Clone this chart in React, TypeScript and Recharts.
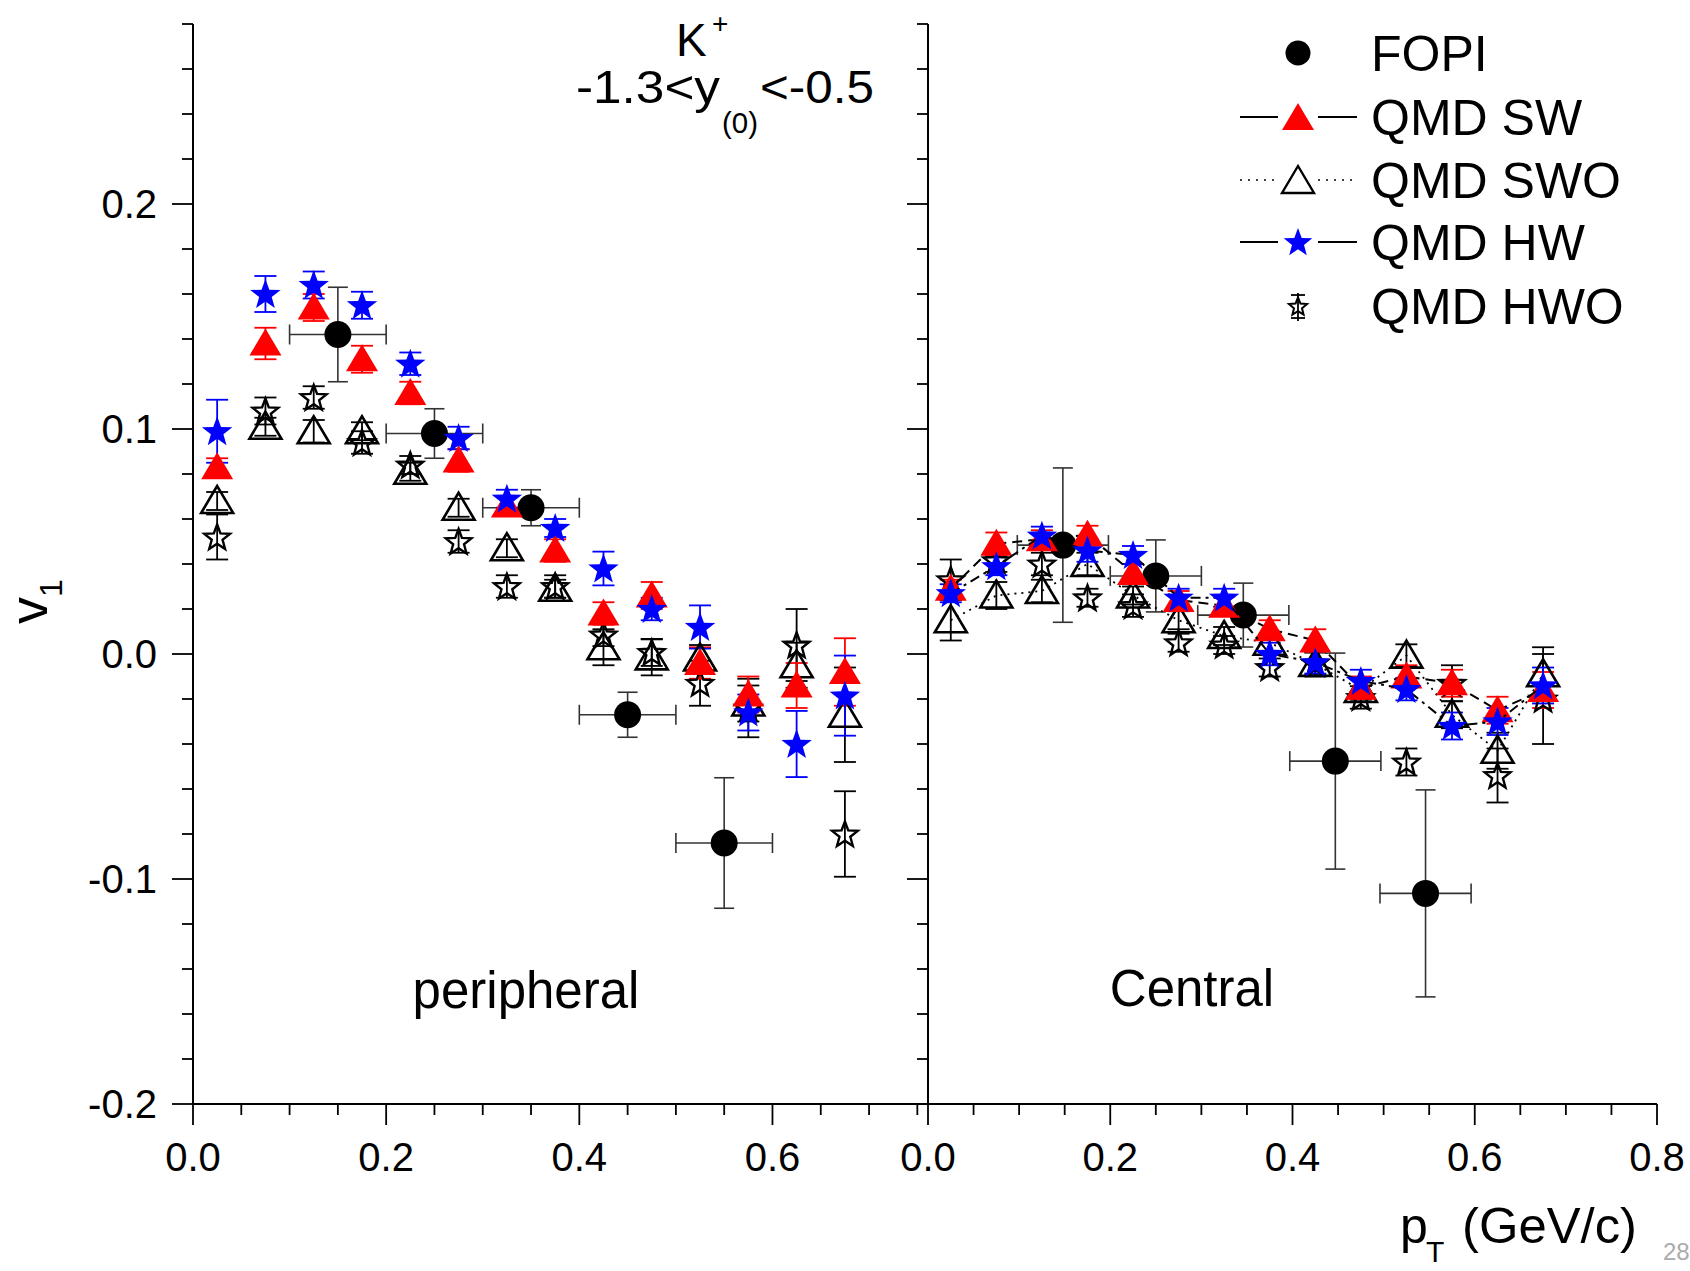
import React from "react";
import { ScatterChart, Scatter, XAxis, YAxis, ErrorBar } from "recharts";

// model pT bins (GeV/c), same in both panels
const ptModel = [0.025, 0.075, 0.125, 0.175, 0.225, 0.275, 0.325, 0.375, 0.425, 0.475, 0.525, 0.575, 0.625, 0.675];

// ---- peripheral ----
const periFopiPt = [0.15, 0.25, 0.35, 0.45, 0.55];
const periFopiV1 = [0.142, 0.098, 0.065, -0.027, -0.084];
const periFopiErr = [0.021, 0.011, 0.008, 0.01, 0.029];
const periFopiPtErr = [0.05, 0.05, 0.05, 0.05, 0.05];

const periSW = [0.083, 0.138, 0.154, 0.131, 0.116, 0.086, 0.066, 0.046, 0.018, 0.026, -0.004, -0.018, -0.014, -0.008];
const periSWErr = [0.004, 0.007, 0.006, 0.006, 0.005, 0.005, 0.004, 0.005, 0.005, 0.006, 0.007, 0.008, 0.01, 0.015];
const periSWO = [0.068, 0.101, 0.099, 0.099, 0.081, 0.065, 0.047, 0.029, 0.003, -0.0015, -0.002, -0.022, -0.005, -0.027];
const periSWOErr = [0.004, 0.004, 0.005, 0.004, 0.004, 0.004, 0.004, 0.004, 0.008, 0.008, 0.006, 0.008, 0.01, 0.021];
const periHW = [0.099, 0.16, 0.164, 0.155, 0.129, 0.096, 0.069, 0.056, 0.038, 0.02, 0.012, -0.026, -0.04, -0.0185];
const periHWErr = [0.014, 0.008, 0.006, 0.006, 0.005, 0.005, 0.004, 0.004, 0.0075, 0.005, 0.0096, 0.008, 0.0147, 0.0178];
const periHWO = [0.052, 0.108, 0.114, 0.094, 0.084, 0.05, 0.03, 0.03, 0.0085, 0.0007, -0.013, -0.024, 0.004, -0.08];
const periHWOErr = [0.01, 0.006, 0.005, 0.005, 0.004, 0.005, 0.005, 0.005, 0.005, 0.006, 0.01, 0.013, 0.016, 0.019];

// ---- central ----
const centFopiPt = [0.148, 0.25, 0.346, 0.447, 0.546];
const centFopiV1 = [0.0484, 0.0347, 0.0173, -0.0476, -0.1064];
const centFopiErr = [0.0343, 0.016, 0.0142, 0.048, 0.046];
const centFopiPtErr = [0.05, 0.05, 0.05, 0.05, 0.05];

const centSW = [0.029, 0.049, 0.051, 0.053, 0.036, 0.024, 0.0215, 0.011, 0.006, -0.015, -0.01, -0.013, -0.025, -0.016];
const centSWErr = [0.004, 0.005, 0.004, 0.004, 0.004, 0.004, 0.004, 0.004, 0.005, 0.005, 0.005, 0.006, 0.006, 0.008];
const centSWO = [0.015, 0.026, 0.028, 0.04, 0.026, 0.015, 0.008, 0.005, -0.0044, -0.016, -0.0007, -0.027, -0.043, -0.009];
const centSWOErr = [0.009, 0.006, 0.005, 0.005, 0.004, 0.004, 0.004, 0.004, 0.005, 0.005, 0.005, 0.006, 0.008, 0.012];
const centHW = [0.027, 0.039, 0.0526, 0.046, 0.044, 0.025, 0.025, 0.0, -0.0037, -0.012, -0.0156, -0.032, -0.03, -0.014];
const centHWErr = [0.004, 0.004, 0.004, 0.005, 0.004, 0.004, 0.004, 0.005, 0.005, 0.005, 0.005, 0.006, 0.006, 0.008];
const centHWO = [0.033, 0.0415, 0.04, 0.025, 0.0215, 0.005, 0.004, -0.006, -0.004, -0.0193, -0.048, -0.013, -0.054, -0.02];
const centHWOErr = [0.009, 0.005, 0.005, 0.004, 0.005, 0.004, 0.004, 0.004, 0.006, 0.005, 0.006, 0.008, 0.012, 0.02];

// axis ticks
const yTicks = [-0.2, -0.18, -0.16, -0.14, -0.12, -0.1, -0.08, -0.06, -0.04, -0.02, 0, 0.02, 0.04, 0.06, 0.08, 0.1, 0.12, 0.14, 0.16, 0.18, 0.2, 0.22, 0.24, 0.26, 0.28];
const xTicksPeri = [0, 0.05, 0.1, 0.15, 0.2, 0.25, 0.3, 0.35, 0.4, 0.45, 0.5, 0.55, 0.6, 0.65, 0.7, 0.75];
const xTicksCent = [0, 0.05, 0.1, 0.15, 0.2, 0.25, 0.3, 0.35, 0.4, 0.45, 0.5, 0.55, 0.6, 0.65, 0.7, 0.75, 0.8];

const FONT = "'Liberation Sans', Arial, Helvetica, sans-serif";
const RED = "#ff0000";
const BLUE = "#0000ff";

const rows = (xs: number[], ys: number[], es: number[], exs?: number[]) =>
  xs.map((x, i) => ({ x, y: ys[i], ey: es[i], ex: exs ? exs[i] : 0 }));

const isMajorY = (v: number) => Math.abs(v * 10 - Math.round(v * 10)) < 1e-6;
const isMajorX = (v: number) => Math.abs(v * 5 - Math.round(v * 5)) < 1e-6;

type Side = "left" | "right" | "top" | "bottom";

function makeTick(side: Side, labels: boolean) {
  return (props: any) => {
    const { x, y, payload } = props;
    const v = payload.value as number;
    const major = side === "left" || side === "right" ? isMajorY(v) : isMajorX(v);
    const len = major ? 21 : 11;
    let line;
    if (side === "bottom" || side === "top") line = <line x1={x} y1={y} x2={x} y2={y + len} />;
    else line = <line x1={x} y1={y} x2={x - len} y2={y} />;
    const txt = Math.abs(v) < 1e-9 ? "0.0" : v.toFixed(1);
    return (
      <g>
        <g stroke="#000" strokeWidth={1.8}>{line}</g>
        {labels && major && side === "left" && (
          <text x={x - 36} y={y + 14} textAnchor="end" fontSize={40} fontFamily={FONT} fill="#000">
            {txt}
          </text>
        )}
        {labels && major && side === "bottom" && (
          <text x={x} y={y + 67} textAnchor="middle" fontSize={40} fontFamily={FONT} fill="#000">
            {txt}
          </text>
        )}
      </g>
    );
  };
}

function starPts(cx: number, cy: number, R: number, r: number) {
  const pts: string[] = [];
  for (let i = 0; i < 10; i++) {
    const a = -Math.PI / 2 + (i * Math.PI) / 5;
    const rad = i % 2 === 0 ? R : r;
    pts.push(`${cx + rad * Math.cos(a)},${cy + rad * Math.sin(a)}`);
  }
  return pts.join(" ");
}

const triPts = (cx: number, cy: number) => `${cx},${cy - 15} ${cx - 16},${cy + 12} ${cx + 16},${cy + 12}`;

const Dot = (p: any) => <circle cx={p.cx} cy={p.cy} r={13.5} fill="#000" />;
const RedTri = (p: any) => <polygon points={triPts(p.cx, p.cy)} fill={RED} />;
const OpenTri = (p: any) => <polygon points={triPts(p.cx, p.cy)} fill="none" stroke="#000" strokeWidth={2.6} />;
const BlueStar = (p: any) => <polygon points={starPts(p.cx, p.cy + 1, 16, 6.6)} fill={BLUE} />;
const OpenStar = (p: any) => <polygon points={starPts(p.cx, p.cy + 1, 13.5, 5.7)} fill="none" stroke="#000" strokeWidth={2.4} />;

const axisLine = { stroke: "#000", strokeWidth: 2 };

function Panel({ left, width, yAxisWidth, xTicks, xMax, showYLabels, fopi, sw, swo, hw, hwo, lines }: any) {
  return (
    <div style={{ position: "absolute", left, top: 0 }}>
      <ScatterChart width={width} height={1271} margin={{ top: 24, right: 33, bottom: 67, left: 0 }}>
        <XAxis
          type="number"
          dataKey="x"
          domain={[0, xMax]}
          allowDataOverflow
          ticks={xTicks}
          interval={0}
          height={100}
          tickSize={0}
          tickMargin={0}
          tickLine={false}
          axisLine={axisLine}
          tick={makeTick("bottom", true)}
        />
        <XAxis
          xAxisId="top"
          orientation="top"
          type="number"
          dataKey="x"
          domain={[0, xMax]}
          allowDataOverflow
          ticks={xTicks}
          interval={0}
          height={0}
          tickSize={0}
          tickMargin={0}
          tickLine={false}
          axisLine={axisLine}
          tick={makeTick("top", false)}
        />
        <YAxis
          type="number"
          dataKey="y"
          domain={[-0.2, 0.28]}
          allowDataOverflow
          ticks={yTicks}
          interval={0}
          width={yAxisWidth}
          tickSize={0}
          tickMargin={0}
          tickLine={false}
          axisLine={axisLine}
          tick={makeTick("left", showYLabels)}
        />
        <YAxis
          yAxisId="r"
          orientation="right"
          type="number"
          dataKey="y"
          domain={[-0.2, 0.28]}
          allowDataOverflow
          ticks={yTicks}
          interval={0}
          width={0}
          tickSize={0}
          tickMargin={0}
          tickLine={false}
          axisLine={axisLine}
          tick={makeTick("right", false)}
        />
        <Scatter name="FOPI" data={fopi} shape={Dot} isAnimationActive={false}>
          <ErrorBar dataKey="ey" direction="y" width={10} stroke="#333" strokeWidth={1.6} isAnimationActive={false} />
          <ErrorBar dataKey="ex" direction="x" width={10} stroke="#333" strokeWidth={1.6} isAnimationActive={false} />
        </Scatter>
        <Scatter
          name="QMD SWO"
          data={swo}
          shape={OpenTri}
          isAnimationActive={false}
          line={lines ? { stroke: "#000", strokeWidth: 1.8, strokeDasharray: "2 5" } : false}
        >
          <ErrorBar dataKey="ey" direction="y" width={11} stroke="#000" strokeWidth={1.8} isAnimationActive={false} />
        </Scatter>
        <Scatter name="QMD HWO" data={hwo} shape={OpenStar} isAnimationActive={false}>
          <ErrorBar dataKey="ey" direction="y" width={11} stroke="#000" strokeWidth={1.8} isAnimationActive={false} />
        </Scatter>
        <Scatter
          name="QMD SW"
          data={sw}
          shape={RedTri}
          isAnimationActive={false}
          line={lines ? { stroke: "#000", strokeWidth: 2, strokeDasharray: "10 6" } : false}
        >
          <ErrorBar dataKey="ey" direction="y" width={11} stroke={RED} strokeWidth={1.8} isAnimationActive={false} />
        </Scatter>
        <Scatter
          name="QMD HW"
          data={hw}
          shape={BlueStar}
          isAnimationActive={false}
          line={lines ? { stroke: "#000", strokeWidth: 2, strokeDasharray: "10 5 3 5" } : false}
        >
          <ErrorBar dataKey="ey" direction="y" width={11} stroke={BLUE} strokeWidth={1.8} isAnimationActive={false} />
        </Scatter>
      </ScatterChart>
    </div>
  );
}

function Overlay() {
  const legendText = { fontSize: 50, fontFamily: FONT, fill: "#000" } as const;
  return (
    <svg width={1690} height={1271} style={{ position: "absolute", left: 0, top: 0, pointerEvents: "none" }}>
      {/* axis titles */}
      <text transform="translate(47,624) rotate(-90)" fontSize={54} fontFamily={FONT} fill="#000">
        v<tspan fontSize={32} dy={15}>1</tspan>
      </text>
      <text x={1400} y={1243} fontSize={50} fontFamily={FONT} fill="#000">p</text>
      <text x={1426} y={1262} fontSize={30} fontFamily={FONT} fill="#000">T</text>
      <text x={1462} y={1243} fontSize={50} fontFamily={FONT} fill="#000" textLength={175} lengthAdjust="spacingAndGlyphs">
        (GeV/c)
      </text>
      <text x={1663} y={1260} fontSize={24} fontFamily={FONT} fill="#aaa">28</text>

      {/* particle / rapidity window */}
      <text x={676} y={56} fontSize={46} fontFamily={FONT} fill="#000">K</text>
      <text x={712} y={33} fontSize={28} fontFamily={FONT} fill="#000">+</text>
      <text x={576} y={103} fontSize={46} fontFamily={FONT} fill="#000" textLength={144} lengthAdjust="spacingAndGlyphs">
        -1.3&lt;y
      </text>
      <text x={722} y={133} fontSize={30} fontFamily={FONT} fill="#000" textLength={36} lengthAdjust="spacingAndGlyphs">
        (0)
      </text>
      <text x={760} y={103} fontSize={46} fontFamily={FONT} fill="#000" textLength={114} lengthAdjust="spacingAndGlyphs">
        &lt;-0.5
      </text>

      {/* panel names */}
      <text x={526} y={1008} textAnchor="middle" fontSize={51} fontFamily={FONT} fill="#000">peripheral</text>
      <text x={1192} y={1006} textAnchor="middle" fontSize={51} fontFamily={FONT} fill="#000">Central</text>

      {/* legend */}
      <circle cx={1298} cy={53} r={12.5} fill="#000" />
      <text x={1371} y={71} {...legendText}>FOPI</text>

      <line x1={1240} y1={117} x2={1278} y2={117} stroke="#000" strokeWidth={2} />
      <line x1={1318} y1={117} x2={1357} y2={117} stroke="#000" strokeWidth={2} />
      <polygon points={triPts(1298, 118)} fill={RED} />
      <text x={1371} y={135} {...legendText}>QMD SW</text>

      <line x1={1240} y1={180} x2={1280} y2={180} stroke="#000" strokeWidth={1.6} strokeDasharray="2 6" />
      <line x1={1318} y1={180} x2={1357} y2={180} stroke="#000" strokeWidth={1.6} strokeDasharray="2 6" />
      <polygon points={triPts(1298, 181)} fill="none" stroke="#000" strokeWidth={2.4} />
      <text x={1371} y={198} {...legendText}>QMD SWO</text>

      <line x1={1240} y1={242} x2={1278} y2={242} stroke="#000" strokeWidth={2} />
      <line x1={1318} y1={242} x2={1357} y2={242} stroke="#000" strokeWidth={2} />
      <polygon points={starPts(1298, 243, 15, 6.3)} fill={BLUE} />
      <text x={1371} y={260} {...legendText}>QMD HW</text>

      <line x1={1298} y1={293} x2={1298} y2={321} stroke="#000" strokeWidth={1.8} />
      <line x1={1291} y1={295} x2={1305} y2={295} stroke="#000" strokeWidth={1.8} />
      <line x1={1291} y1={318} x2={1305} y2={318} stroke="#000" strokeWidth={1.8} />
      <polygon points={starPts(1298, 307, 9.5, 4.2)} fill="none" stroke="#000" strokeWidth={2} />
      <text x={1371} y={324} {...legendText}>QMD HWO</text>
    </svg>
  );
}

export default function App() {
  return (
    <div style={{ position: "absolute", left: 0, top: 0, width: 1690, height: 1271, background: "#fff", overflow: "hidden" }}>
      <Panel
        left={0}
        width={960}
        yAxisWidth={193}
        xTicks={xTicksPeri}
        xMax={0.76}
        showYLabels
        fopi={rows(periFopiPt, periFopiV1, periFopiErr, periFopiPtErr)}
        sw={rows(ptModel, periSW, periSWErr)}
        swo={rows(ptModel, periSWO, periSWOErr)}
        hw={rows(ptModel, periHW, periHWErr)}
        hwo={rows(ptModel, periHWO, periHWOErr)}
        lines={false}
      />
      <Panel
        left={900}
        width={790}
        yAxisWidth={28}
        xTicks={xTicksCent}
        xMax={0.8}
        showYLabels={false}
        fopi={rows(centFopiPt, centFopiV1, centFopiErr, centFopiPtErr)}
        sw={rows(ptModel, centSW, centSWErr)}
        swo={rows(ptModel, centSWO, centSWOErr)}
        hw={rows(ptModel, centHW, centHWErr)}
        hwo={rows(ptModel, centHWO, centHWOErr)}
        lines
      />
      <Overlay />
    </div>
  );
}
